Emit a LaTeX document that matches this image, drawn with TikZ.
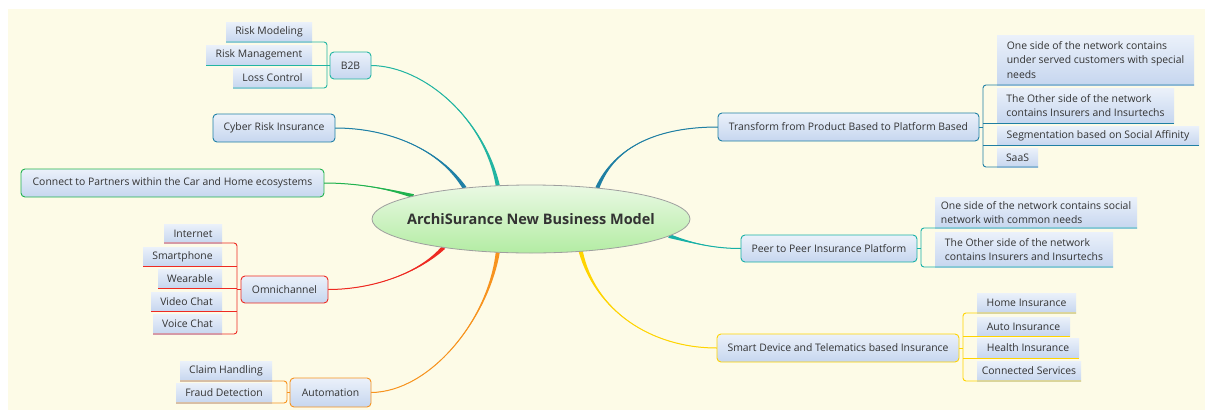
\documentclass[tikz,border=0pt]{standalone}
\usepackage{fontspec}
\setmainfont{Open Sans}
\usetikzlibrary{shapes.geometric,calc}
\pgfdeclarelayer{background}
\pgfsetlayers{background,main}
\definecolor{bg}{HTML}{FDFBE7}
\definecolor{txt}{HTML}{333333}
\definecolor{fTop}{HTML}{EBF1FA}
\definecolor{fBot}{HTML}{C6D6EF}
\definecolor{rTop}{HTML}{EAF9E4}
\definecolor{rBot}{HTML}{B3ECA3}
\definecolor{b2bC}{HTML}{22B5A2}
\definecolor{cyberC}{HTML}{1F80A6}
\definecolor{greenC}{HTML}{20B24E}
\definecolor{redC}{HTML}{EE2A22}
\definecolor{orangeC}{HTML}{F7931E}
\definecolor{transC}{HTML}{1F7FA3}
\definecolor{peerC}{HTML}{17B0A6}
\definecolor{yellowC}{HTML}{FFD400}
\tikzset{
  txtfont/.style={font=\fontsize{10.4}{14.5}\selectfont},
  rootnode/.style={ellipse, draw=gray!75, line width=0.8pt, minimum width=318, minimum height=68,
    inner sep=0pt, outer sep=0pt, top color=rTop, bottom color=rBot, text=txt,
    font=\fontsize{14.5}{17}\selectfont\bfseries},
  topic/.style={draw=#1, line width=0.9pt, rounded corners=4pt, top color=fTop, bottom color=fBot,
    text=txt, txtfont, inner sep=0pt, outer sep=0pt, anchor=north west, align=center},
  sub/.style={top color=fTop, bottom color=fBot, text=txt, txtfont, inner sep=0pt, outer sep=0pt,
    anchor=north west, align=center},
  brk/.style={draw=#1, line width=0.9pt},
}
\newcommand{\mybranch}[6]{%
  \begin{pgfonlayer}{background}
    \fill[#1] ($(#2)+(#6)$) .. controls (#3) and (#4) .. (#5) .. controls (#4) and (#3) .. ($(#2)-(#6)$) -- cycle;
    \draw[#1, line width=1pt] (#2) .. controls (#3) and (#4) .. (#5);
  \end{pgfonlayer}}
\begin{document}
\begin{tikzpicture}[x=1pt,y=-1pt]
\useasboundingbox (0,0) rectangle (1205,410);
\begin{pgfonlayer}{background}
\fill[white] (0,0) rectangle (1205,410);
\fill[bg] (8,9) rectangle (1205,410);
\end{pgfonlayer}

% root
\node[rootnode] (root) at (531,219) {\makebox[0pt]{ArchiSurance New Business Model}};

% main topics
\node[topic=b2bC, minimum width=41, minimum height=27] (b2b) at (330,52) {B2B};
\node[topic=cyberC, minimum width=122, minimum height=28] (cyber) at (213,114) {Cyber Risk Insurance};
\node[topic=greenC, minimum width=303, minimum height=28] (partners) at (21,169) {Connect to Partners within the Car and Home ecosystems};
\node[topic=redC, minimum width=87, minimum height=27] (omni) at (241,276) {Omnichannel};
\node[topic=orangeC, minimum width=81, minimum height=29] (auto) at (290,378) {Automation};
\node[topic=transC, minimum width=261, minimum height=28] (trans) at (718,113) {Transform from Product Based to Platform Based};
\node[topic=peerC, minimum width=176, minimum height=27] (peer) at (741,235) {Peer to Peer Insurance Platform};
\node[topic=yellowC, minimum width=242, minimum height=28] (smart) at (717,334) {Smart Device and Telematics based Insurance};

% B2B children
\node[sub, minimum width=86, minimum height=20] (rm) at (226,22) {Risk Modeling};
\node[sub, minimum width=106, minimum height=20] (rmg) at (206,45) {Risk Management};
\node[sub, minimum width=79, minimum height=20] (lc) at (233,68) {Loss Control};
% Omnichannel children
\node[sub, minimum width=58, minimum height=19] (inet) at (164,224) {Internet};
\node[sub, minimum width=79, minimum height=19] (phone) at (143,247) {Smartphone};
\node[sub, minimum width=64, minimum height=19] (wear) at (158,269) {Wearable};
\node[sub, minimum width=71, minimum height=19] (video) at (151,292) {Video Chat};
\node[sub, minimum width=69, minimum height=20] (voice) at (153,314) {Voice Chat};
% Automation children
\node[sub, minimum width=92, minimum height=20] (claim) at (180,361) {Claim Handling};
\node[sub, minimum width=96, minimum height=20] (fraud) at (176,383) {Fraud Detection};
% Transform children
\node[sub, minimum width=197, minimum height=50, align=left] (t1) at (997,35) {One side of the network contains\\under served customers with special\\needs};
\node[sub, minimum width=177, minimum height=35, align=left] (t2) at (997,88) {The Other side of the network\\contains Insurers and Insurtechs};
\node[sub, minimum width=202, minimum height=19] (t3) at (997,126) {Segmentation based on Social Affinity};
\node[sub, minimum width=41, minimum height=19] (t4) at (997,148) {SaaS};
% Peer children
\node[sub, minimum width=202, minimum height=31, align=left] (p1) at (935,197) {One side of the network contains social\\network with common needs};
\node[sub, minimum width=178, minimum height=35, align=left] (p2) at (935,232) {The Other side of the network\\contains Insurers and Insurtechs};
% Smart children
\node[sub, minimum width=99, minimum height=20] (s1) at (977,293) {Home Insurance};
\node[sub, minimum width=93, minimum height=19] (s2) at (977,317) {Auto Insurance};
\node[sub, minimum width=102, minimum height=20] (s3) at (977,338) {Health Insurance};
\node[sub, minimum width=104, minimum height=20] (s4) at (977,361) {Connected Services};

% bracket coordinates
\coordinate (kb2b) at (327,0);
\coordinate (komni) at (237,0);
\coordinate (kauto) at (287,0);
\coordinate (ktrans) at (983,0);
\coordinate (kpeer) at (921,0);
\coordinate (ksmart) at (963,0);

% brackets
\draw[brk=b2bC, rounded corners=3pt] (rm.south west) -- (rm.south -| kb2b) -- (lc.south -| kb2b) -- (lc.south west);
\draw[brk=b2bC] (rmg.south west) -- (rmg.south -| kb2b);
\draw[brk=b2bC] (b2b.west) -- (b2b.west -| kb2b);

\draw[brk=redC, rounded corners=3pt] (inet.south west) -- (inet.south -| komni) -- (voice.south -| komni) -- (voice.south west);
\draw[brk=redC] (phone.south west) -- (phone.south -| komni);
\draw[brk=redC] (wear.south west) -- (wear.south -| komni);
\draw[brk=redC] (video.south west) -- (video.south -| komni);
\draw[brk=redC] (omni.west) -- (omni.west -| komni);

\draw[brk=orangeC, rounded corners=3pt] (claim.south west) -- (claim.south -| kauto) -- (fraud.south -| kauto) -- (fraud.south west);
\draw[brk=orangeC] (auto.west) -- (auto.west -| kauto);

\draw[brk=transC, rounded corners=3pt] (t1.south east) -- (t1.south -| ktrans) -- (t4.south -| ktrans) -- (t4.south east);
\draw[brk=transC] (t2.south -| ktrans) -- (t2.south east);
\draw[brk=transC] (t3.south -| ktrans) -- (t3.south east);
\draw[brk=transC] (trans.east) -- (trans.east -| ktrans);

\draw[brk=peerC, rounded corners=3pt] (p1.south east) -- (p1.south -| kpeer) -- (p2.south -| kpeer) -- (p2.south east);
\draw[brk=peerC] (peer.east) -- (peer.east -| kpeer);

\draw[brk=yellowC, rounded corners=3pt] (s1.south east) -- (s1.south -| ksmart) -- (s4.south -| ksmart) -- (s4.south east);
\draw[brk=yellowC] (s2.south -| ksmart) -- (s2.south east);
\draw[brk=yellowC] (s3.south -| ksmart) -- (s3.south east);
\draw[brk=yellowC] (smart.east) -- (smart.east -| ksmart);

% tapered connectors
\mybranch{b2bC}{root.135}{485,120}{425,66}{b2b.east}{2,-0.4}
\mybranch{cyberC}{root.155}{440,150}{390,128}{cyber.east}{1.7,-1.1}
\mybranch{greenC}{root.169}{385,188}{355,183}{partners.east}{0.6,-1.9}
\mybranch{redC}{root.198}{420,272}{375,289.5}{omni.east}{1.45,1.4}
\mybranch{orangeC}{root.225}{488,320}{430,392}{auto.east}{2,0.3}
\mybranch{yellowC}{root.327}{595,310}{650,348}{smart.west}{2,-0.5}
\mybranch{transC}{root.25}{615,145}{660,127}{trans.west}{1.85,0.77}
\mybranch{peerC}{root.353}{695,244}{715,248.5}{peer.west}{-0.6,1.9}
\end{tikzpicture}
\end{document}
